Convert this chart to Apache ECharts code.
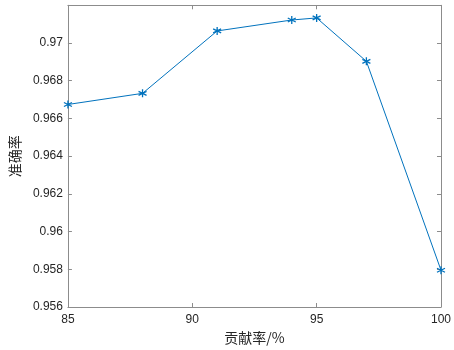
<!DOCTYPE html>
<html><head><meta charset="utf-8">
<script src="https://cdn.jsdelivr.net/npm/echarts@6/dist/echarts.min.js"></script>
<style>html,body{margin:0;padding:0;background:#fff}#c{width:454px;height:350px}</style>
</head><body><div id="c"></div>
<script>
const xValues = [85, 88, 91, 94, 95, 97, 100];
const accuracy = [0.96674, 0.96733, 0.97064, 0.97122, 0.97133, 0.96903, 0.95795];
const xTicks = [85, 90, 95, 100];
const yTicks = [0.956, 0.958, 0.96, 0.962, 0.964, 0.966, 0.968, 0.97];
const xName = '贡献率/%';
const yName = '准确率';

const axisColor = '#8c8c8c';
const textColor = '#262626';
const lineColor = '#0072BD';
const star = 'path://M0,-1L0,1M-0.866,-0.5L0.866,0.5M-0.866,0.5L0.866,-0.5';

const chart = echarts.init(document.getElementById('c'), null, {renderer: 'canvas'});
const baseX = {type: 'value', min: xTicks[0], max: xTicks[xTicks.length-1], interval: 5,
  axisLine: {show: true, onZero: false, lineStyle: {color: axisColor, width: 1}},
  axisTick: {show: true, inside: true, length: 4, lineStyle: {color: axisColor}},
  splitLine: {show: false}};
const baseY = {type: 'value', min: yTicks[0], max: 0.972, interval: 0.002,
  axisLine: {show: true, onZero: false, lineStyle: {color: axisColor, width: 1}},
  axisTick: {show: true, inside: true, length: 4, lineStyle: {color: axisColor}},
  splitLine: {show: false}};
chart.setOption({
  animation: false,
  grid: {left: 54.5, right: 12, top: 5.3, bottom: 38.3, containLabel: false},
  xAxis: [
    Object.assign({}, baseX, {position: 'bottom',
      name: xName, nameLocation: 'middle', nameGap: 24,
      nameTextStyle: {color: textColor, fontSize: 14, fontFamily: 'Noto Sans CJK SC'},
      axisLabel: {color: textColor, fontSize: 12, fontFamily: 'Liberation Sans', margin: 7}}),
    Object.assign({}, baseX, {position: 'top', axisLabel: {show: false}})
  ],
  yAxis: [
    Object.assign({}, baseY, {position: 'left',
      name: yName, nameLocation: 'middle', nameGap: 30,
      nameTextStyle: {color: textColor, fontSize: 14, fontFamily: 'Noto Sans CJK SC'},
      axisLabel: {color: textColor, fontSize: 12, fontFamily: 'Liberation Sans', margin: 5,
        formatter: v => (v > 0.9705 ? '' : String(parseFloat(v.toFixed(3))))}}),
    Object.assign({}, baseY, {position: 'right', axisLabel: {show: false}})
  ],
  series: [{
    type: 'line',
    data: xValues.map((x, i) => [x, accuracy[i]]),
    lineStyle: {color: lineColor, width: 1},
    symbol: star, symbolSize: 8, showAllSymbol: true,
    itemStyle: {color: 'rgba(0,0,0,0)', borderColor: lineColor, borderWidth: 1.3},
    clip: false
  }]
});
</script></body></html>
